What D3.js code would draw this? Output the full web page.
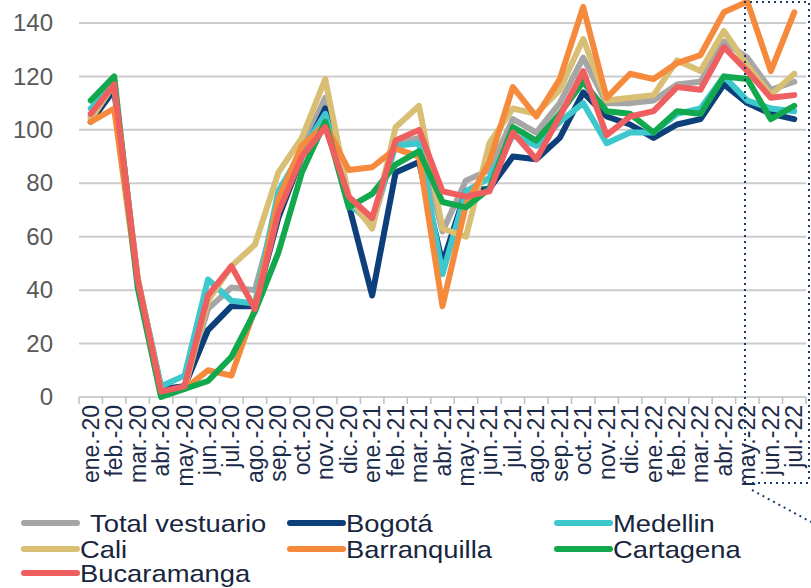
<!DOCTYPE html>
<html>
<head>
<meta charset="utf-8">
<script src="https://cdn.jsdelivr.net/npm/d3@7"></script>
<style>
    body { margin: 0; background: #fff; }
    #chart { width: 811px; height: 588px; }
    text { font-family: 'Liberation Sans', Arial, sans-serif; }
</style>
</head>
<body>
<div id="chart"></div>
<script>
'use strict';

const months = ['ene.-20', 'feb.-20', 'mar.-20', 'abr.-20', 'may.-20', 'jun.-20', 'jul.-20', 'ago.-20', 'sep.-20', 'oct.-20', 'nov.-20', 'dic.-20',
    'ene.-21', 'feb.-21', 'mar.-21', 'abr.-21', 'may.-21', 'jun.-21', 'jul.-21', 'ago.-21', 'sep.-21', 'oct.-21', 'nov.-21', 'dic.-21',
    'ene.-22', 'feb.-22', 'mar.-22', 'abr.-22', 'may.-22', 'jun.-22', 'jul.-22'];

const yTicks = [0, 20, 40, 60, 80, 100, 120, 140];

const totalVestuario = [105, 117, 44, 2, 4, 33, 41, 40, 72, 93, 112, 73, 64, 95, 97, 62, 81, 85, 104, 99, 110, 127, 110, 110, 111, 117, 118, 133, 127, 115, 118];
const bogota = [103, 115, 44, 3, 4, 25, 34, 34, 67, 90, 108, 72, 38, 84, 88, 50, 77, 78, 90, 89, 97, 114, 105, 102, 97, 102, 104, 117, 110, 106, 104];
const medellin = [108, 117, 44, 4, 8, 44, 36, 35, 77, 92, 106, 72, 66, 94, 95, 46, 77, 82, 98, 94, 103, 110, 95, 99, 99, 106, 108, 120, 111, 108, 107];
const cali = [104, 117, 45, 2, 3, 36, 49, 57, 84, 97, 119, 75, 63, 101, 109, 63, 60, 95, 108, 106, 115, 134, 111, 112, 113, 126, 122, 137, 124, 113, 121];
const barranquilla = [103, 108, 43, 2, 3, 10, 8, 33, 74, 94, 102, 85, 86, 93, 90, 34, 72, 88, 116, 105, 119, 146, 112, 121, 119, 125, 128, 144, 148, 122, 144];
const cartagena = [111, 120, 41, 0, 3, 6, 15, 32, 54, 84, 103, 71, 76, 87, 92, 73, 71, 78, 101, 96, 106, 118, 107, 106, 99, 107, 106, 120, 119, 104, 109];
const bucaramanga = [106, 117, 44, 2, 4, 38, 49, 33, 69, 90, 101, 75, 67, 96, 100, 77, 75, 77, 99, 89, 105, 122, 98, 105, 107, 116, 115, 131, 122, 112, 113];

const seriesNames = ['Total vestuario', 'Bogotá', 'Medellin', 'Cali', 'Barranquilla', 'Cartagena', 'Bucaramanga'];
const seriesColors = ['#a6a6a6', '#0d3f7a', '#3cc8cc', '#d8bf74', '#f68a3c', '#12a94e', '#ef5f60'];

let series = [totalVestuario, bogota, medellin, cali, barranquilla, cartagena, bucaramanga].map(function (values, i) {
    return { name: seriesNames[i], color: seriesColors[i], values: values };
});

let svg = d3.select('#chart').append('svg')
    .attr('width', 811)
    .attr('height', 588);

let x = d3.scaleBand()
    .domain(months)
    .range([79, 806]);

let y = d3.scaleLinear()
    .domain([0, 140])
    .range([397, 23]);

// gridlines
svg.append('g')
    .selectAll('line')
    .data(yTicks.filter(function (d) { return d > 0; }))
    .enter()
    .append('line')
    .attr('x1', 79)
    .attr('x2', 806)
    .attr('y1', function (d) { return y(d); })
    .attr('y2', function (d) { return y(d); })
    .style('stroke', '#cccccc')
    .style('stroke-width', 2);

// y axis labels
let yAxis = svg.append('g')
    .attr('transform', 'translate(79,0)')
    .call(d3.axisLeft(y).tickValues(yTicks).tickSize(0).tickPadding(26));

yAxis.select('.domain').remove();
yAxis.selectAll('text')
    .style('font-size', '24px')
    .style('fill', '#595959')
    .style('font-family', "'Liberation Sans', Arial, sans-serif");

// x axis
let xAxis = svg.append('g')
    .attr('transform', 'translate(0,397)');

xAxis.append('line')
    .attr('x1', 79)
    .attr('x2', 806)
    .style('stroke', '#bfbfbf')
    .style('stroke-width', 1.5);

xAxis.selectAll('.tick-mark')
    .data(months.concat(['end']))
    .enter()
    .append('line')
    .attr('class', 'tick-mark')
    .attr('x1', function (d, i) { return 79 + i * x.step(); })
    .attr('x2', function (d, i) { return 79 + i * x.step(); })
    .attr('y1', 0)
    .attr('y2', 7)
    .style('stroke', '#bfbfbf')
    .style('stroke-width', 1.5);

xAxis.selectAll('.month-label')
    .data(months)
    .enter()
    .append('text')
    .attr('class', 'month-label')
    .text(function (d) { return d; })
    .attr('text-anchor', 'end')
    .attr('transform', function (d) { return 'translate(' + (x(d) + x.bandwidth() / 2 + 8) + ',8) rotate(-90)'; })
    .style('font-size', '23px')
    .style('fill', '#1c2b48');

// lines
let line = d3.line()
    .x(function (d, i) { return x(months[i]) + x.bandwidth() / 2; })
    .y(function (d) { return y(d); });

svg.append('g')
    .selectAll('path')
    .data(series)
    .enter()
    .append('path')
    .attr('d', function (d) { return line(d.values); })
    .style('fill', 'none')
    .style('stroke', function (d) { return d.color; })
    .style('stroke-width', 6)
    .style('stroke-linejoin', 'round')
    .style('stroke-linecap', 'round');

// dotted highlight box
let dotted = svg.append('g')
    .style('fill', 'none')
    .style('stroke', '#1b3d6e')
    .style('stroke-width', 2)
    .style('stroke-dasharray', '2,4');

dotted.append('path')
    .attr('d', 'M745,483L745,2L809,2L809,483');

dotted.append('path')
    .attr('d', 'M752,483L809,483');

dotted.append('path')
    .attr('d', 'M752,490L811,522');

// legend
let legendPos = [
    { x: 22, y: 523 }, { x: 288, y: 523 }, { x: 555, y: 523 },
    { x: 22, y: 549 }, { x: 288, y: 549 }, { x: 555, y: 549 },
    { x: 22, y: 573 }
];

let legend = svg.append('g')
    .selectAll('.legend-item')
    .data(series)
    .enter()
    .append('g')
    .attr('class', 'legend-item')
    .attr('transform', function (d, i) { return 'translate(' + legendPos[i].x + ',' + legendPos[i].y + ')'; });

legend.append('line')
    .attr('x1', 2)
    .attr('x2', 55)
    .style('stroke', function (d) { return d.color; })
    .style('stroke-width', 6)
    .style('stroke-linecap', 'round');

// the source font is drawn a little wide, so stretch the labels sideways
legend.append('text')
    .text(function (d) { return d.name; })
    .attr('transform', function (d, i) { return 'translate(' + (i === 0 ? 68 : 58) + ',0) scale(1.14,1)'; })
    .attr('dy', '0.36em')
    .style('font-size', '24px')
    .style('fill', '#17253d');
</script>
</body>
</html>
